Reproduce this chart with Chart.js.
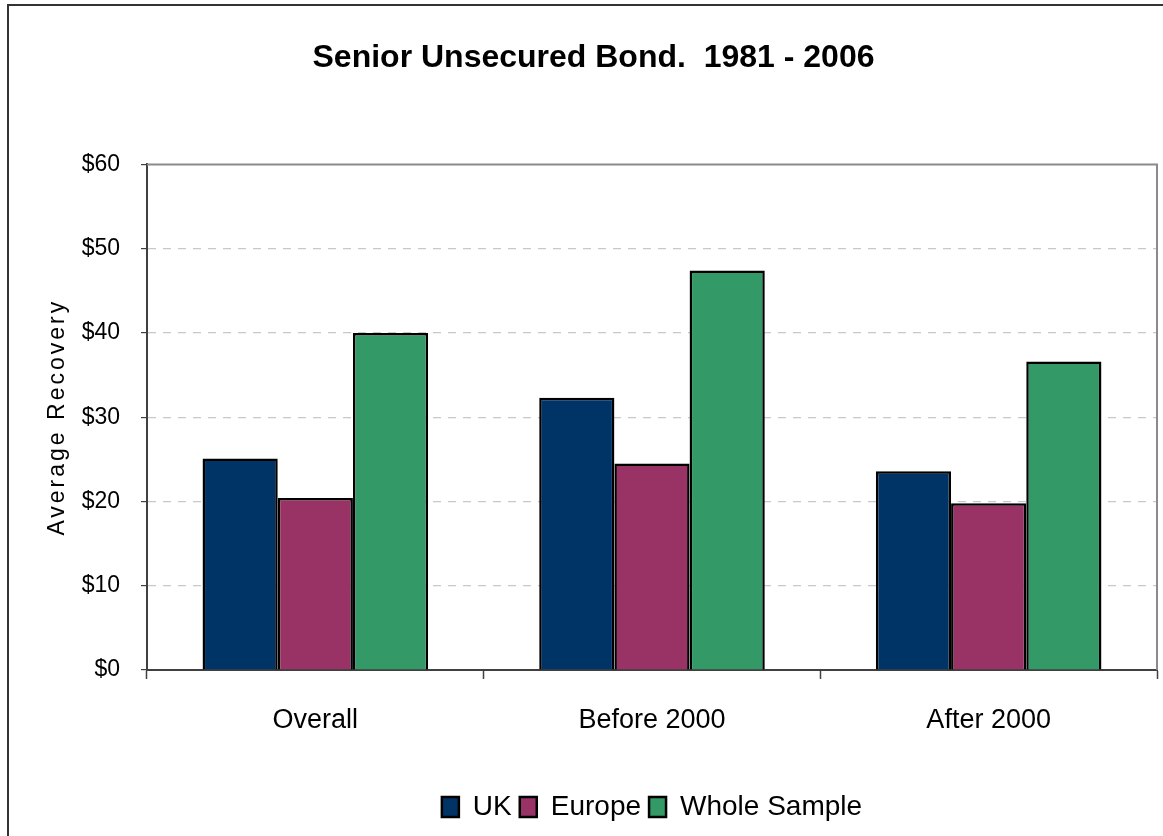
<!DOCTYPE html>
<html>
<head>
<meta charset="utf-8">
<script src="https://cdn.jsdelivr.net/npm/chart.js@4"></script>
<style>
  html, body { margin: 0; padding: 0; background: #fff; overflow: hidden; }
  #frame { position: absolute; left: 7px; top: 4px; width: 1200px; height: 900px; border: 2px solid #333; }
  #wrap { position: absolute; left: 0; top: 0; width: 1163px; height: 836px; }
</style>
</head>
<body>
<div id="frame"></div>
<div id="wrap"><canvas id="myChart"></canvas></div>
<script>
// data
var categories = ['Overall', 'Before 2000', 'After 2000'];
var ukValues = [25.1, 32.3, 23.6];
var europeValues = [20.4, 24.5, 19.8];
var wholeValues = [40.0, 47.4, 36.6];
var yTicks = [0, 10, 20, 30, 40, 50, 60];

Chart.defaults.font.family = "'Liberation Sans', Arial, sans-serif";
Chart.defaults.color = '#000';

// gray frame on top and right of the plot
const plotFrame = {
  id: 'plotFrame',
  beforeDatasetsDraw(chart) {
    const a = chart.chartArea, ctx = chart.ctx;
    ctx.save();
    ctx.strokeStyle = '#8a8a8a';
    ctx.lineWidth = 2;
    ctx.beginPath();
    ctx.moveTo(a.left, a.top);
    ctx.lineTo(a.right, a.top);
    ctx.lineTo(a.right, a.bottom);
    ctx.stroke();
    ctx.restore();
  }
};

// y axis title, spaced out like the original
const yTitle = {
  id: 'yTitle',
  afterDraw(chart) {
    const a = chart.chartArea, ctx = chart.ctx;
    ctx.save();
    ctx.translate(58, (a.top + a.bottom) / 2);
    ctx.rotate(-Math.PI / 2);
    ctx.font = "23px 'Liberation Sans', Arial, sans-serif";
    ctx.letterSpacing = '3px';
    ctx.fillStyle = '#000';
    ctx.textAlign = 'center';
    ctx.textBaseline = 'middle';
    ctx.fillText('Average Recovery', 0, 0);
    ctx.restore();
  }
};

var data = {
  labels: categories,
  datasets: [
    { label: 'UK', data: ukValues, backgroundColor: '#003366', borderColor: '#000', borderWidth: 2.5 },
    { label: 'Europe', data: europeValues, backgroundColor: '#993366', borderColor: '#000', borderWidth: 2.5 },
    { label: 'Whole Sample', data: wholeValues, backgroundColor: '#339966', borderColor: '#000', borderWidth: 2.5 }
  ]
};

var config = {
  type: 'bar',
  data: data,
  plugins: [plotFrame, yTitle],
  options: {
    responsive: false,
    animation: false,
    layout: { padding: { left: 30, right: 6, top: 0, bottom: 5 } },
    datasets: { bar: { categoryPercentage: 0.67, barPercentage: 1.0 } },
    plugins: {
      title: {
        display: true,
        text: 'Senior Unsecured Bond.  1981 - 2006',
        font: { size: 32, weight: 'bold' },
        color: '#000',
        padding: { top: 39, bottom: 87 }
      },
      legend: {
        position: 'bottom',
        fullSize: false,
        labels: { boxWidth: 17, boxHeight: 20, padding: 8, font: { size: 28 }, color: '#000' }
      },
      tooltip: { enabled: false }
    },
    scales: {
      x: {
        grid: { offset: true, drawOnChartArea: false, tickLength: 9, tickColor: '#404040', tickWidth: 1.5 },
        border: { color: '#404040', width: 2 },
        ticks: { font: { size: 27 }, color: '#000', padding: 25 },
        afterFit(scale) { scale.height = 115; }
      },
      y: {
        min: 0,
        max: 60,
        afterBuildTicks(scale) { scale.ticks = yTicks.map(v => ({ value: v })); },
        grid: {
          color: ctx => (ctx.tick && (ctx.tick.value === 0 || ctx.tick.value === 60)) ? 'rgba(0,0,0,0)' : '#c8c8c8',
          tickColor: '#404040',
          tickLength: 6,
          lineWidth: 1.2
        },
        border: { color: '#404040', width: 2, dash: [8, 7] },
        ticks: { font: { size: 23 }, color: '#000', padding: 21, callback: v => '$' + v },
        afterFit(scale) { scale.width = 117; }
      }
    }
  }
};

var canvas = document.getElementById('myChart');
canvas.width = 1163;
canvas.height = 836;
var myChart = new Chart(canvas, config);
</script>
</body>
</html>
